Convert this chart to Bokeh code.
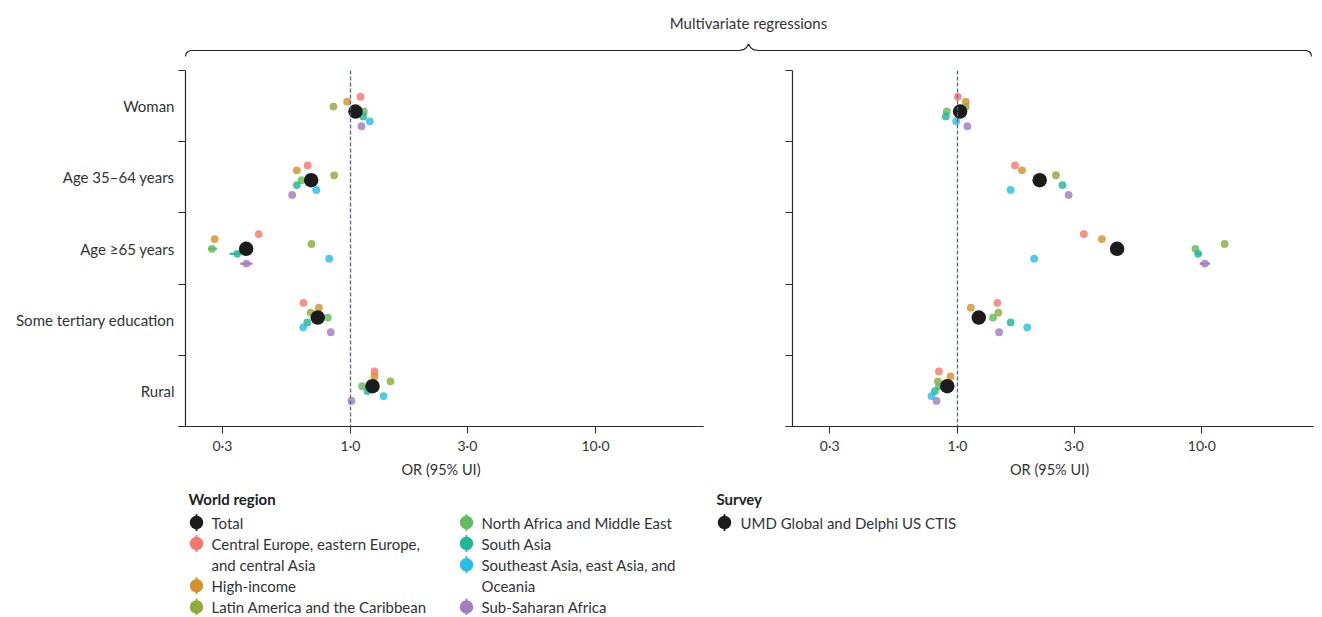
from bokeh.plotting import figure
from bokeh.models import Range1d, FixedTicker, Span, ColumnDataSource, CustomJSTickFormatter
from bokeh.layouts import column, row
from bokeh.embed import file_html
from bokeh.resources import INLINE
from bokeh.core.properties import value

# ---------------- data ----------------
rows = ["Woman", "Age 35–64 years", "Age ≥65 years", "Some tertiary education", "Rural"]

series = ["Total",
          "Central Europe, eastern Europe, and central Asia",
          "High-income",
          "Latin America and the Caribbean",
          "North Africa and Middle East",
          "South Asia",
          "Southeast Asia, east Asia, and Oceania",
          "Sub-Saharan Africa"]

legend_labels = ["Total",
                 "Central Europe, eastern Europe,\nand central Asia",
                 "High-income",
                 "Latin America and the Caribbean",
                 "North Africa and Middle East",
                 "South Asia",
                 "Southeast Asia, east Asia, and\nOceania",
                 "Sub-Saharan Africa"]

survey_label = "UMD Global and Delphi US CTIS"

# odds ratios, order of rows: Woman, Age 35-64, Age >=65, Some tertiary education, Rural
left_total = [1.048, 0.691, 0.375, 0.735, 1.230]
left_ceeca = [1.098, 0.669, 0.422, 0.643, 1.253]
left_high = [0.969, 0.604, 0.279, 0.743, 1.253]
left_latam = [0.852, 0.858, 0.693, 0.687, 1.456]
left_nafme = [1.133, 0.631, 0.272, 0.808, 1.116]
left_sasia = [1.127, 0.604, 0.345, 0.666, 1.173]
left_seao = [1.199, 0.725, 0.819, 0.641, 1.364]
left_ssa = [1.109, 0.578, 0.376, 0.831, 1.009]

right_total = [1.025, 2.170, 4.500, 1.222, 0.908]
right_ceeca = [1.003, 1.720, 3.290, 1.456, 0.839]
right_high = [1.081, 1.836, 3.900, 1.134, 0.936]
right_latam = [1.081, 2.530, 12.40, 1.470, 0.831]
right_nafme = [0.904, 2.170, 9.420, 1.398, 0.840]
right_sasia = [0.896, 2.690, 9.660, 1.650, 0.808]
right_seao = [0.988, 1.650, 2.060, 1.930, 0.783]
right_ssa = [1.098, 2.850, 10.29, 1.480, 0.821]

left_values = [left_total, left_ceeca, left_high, left_latam, left_nafme, left_sasia, left_seao, left_ssa]
right_values = [right_total, right_ceeca, right_high, right_latam, right_nafme, right_sasia, right_seao, right_ssa]

# visible uncertainty intervals: (series index, row index, lower, upper)
left_ci = [(4, 2, 0.262, 0.285), (5, 2, 0.321, 0.356), (7, 2, 0.355, 0.398)]
right_ci = [(5, 2, 9.40, 9.95), (7, 2, 9.80, 10.80)]

x_ticks = [0.3, 1.0, 3.0, 10.0]

# ---------------- style ----------------
FONT = "Lato"
TXT = "#333333"
AX = "#2a2a2a"
colors = ["#1c1c1c", "#F8766D", "#D4922A", "#8FAB3B", "#62BC5E", "#21B795", "#27BFE6", "#A27DBF"]
dodge = [0, 3, 2, 1, 0, -1, -2, -3]
DODGE = 0.069
SCALE = 0.9645
SHIFT = 0.066
PX_PER_DEC = 245.0

FRAME_H = 356
TOP_B = 4
BOT_B = 54
W = 1314


def panel(values, cis, x_lo, x_hi, frame_w, b_left, b_right, labels):
    p = figure(width=b_left + frame_w + b_right, height=TOP_B + FRAME_H + BOT_B,
               x_axis_type="log", x_range=Range1d(x_lo, x_hi), y_range=Range1d(-0.5, 4.5),
               output_backend="svg", toolbar_location=None,
               min_border_left=b_left, min_border_right=b_right,
               min_border_top=TOP_B, min_border_bottom=BOT_B)
    p.outline_line_color = None
    p.xgrid.visible = False
    p.ygrid.visible = False
    p.background_fill_color = "white"
    p.border_fill_color = "white"

    xa = p.xaxis[0]
    xa.ticker = FixedTicker(ticks=x_ticks, minor_ticks=[])
    xa.formatter = CustomJSTickFormatter(code="return tick.toFixed(1).replace('.', '\u00b7');")
    xa.major_tick_out = 7
    xa.major_tick_in = 0
    xa.minor_tick_out = 0
    xa.axis_line_color = AX
    xa.major_tick_line_color = AX
    xa.major_label_text_font = FONT
    xa.major_label_text_font_size = "14px"
    xa.major_label_text_color = TXT
    xa.major_label_standoff = 3
    xa.axis_label = "OR (95% UI)"
    xa.axis_label_text_font = FONT
    xa.axis_label_text_font_size = "14.5px"
    xa.axis_label_text_font_style = "normal"
    xa.axis_label_text_color = TXT
    xa.axis_label_standoff = 4

    ya = p.yaxis[0]
    ya.ticker = FixedTicker(ticks=[0, 1, 2, 3, 4], minor_ticks=[-0.5, 0.5, 1.5, 2.5, 3.5, 4.5])
    if labels:
        ya.formatter = CustomJSTickFormatter(args=dict(labels=rows),
                                             code="const i = Math.round(4 - tick); return (i >= 0 && i < labels.length) ? labels[i] : '';")
    else:
        ya.formatter = CustomJSTickFormatter(code="return '';")
    ya.axis_line_color = None
    ya.major_tick_out = 0
    ya.major_tick_in = 0
    ya.minor_tick_out = 0
    ya.minor_tick_in = 7
    ya.minor_tick_line_color = AX
    ya.minor_tick_line_width = 1.2
    ya.major_label_text_font = FONT
    ya.major_label_text_font_size = "15px"
    ya.major_label_text_color = TXT
    ya.major_label_standoff = 4

    # the y axis line sits 7 px inside the frame, at the ends of the ticks
    p.add_layout(Span(location=x_lo * 10 ** (7 / PX_PER_DEC), dimension="height",
                      line_color=AX, line_width=1.2))
    p.add_layout(Span(location=1.0, dimension="height", line_color="#52687a",
                      line_width=1.3, line_dash="4 2"))

    centers = [4, 3, 2, 1, 0]
    order = [1, 2, 3, 4, 5, 6, 7, 0]
    for k in order:
        ys = [SHIFT + SCALE * c + dodge[k] * DODGE for c in centers]
        src = ColumnDataSource(dict(x=values[k], y=ys))
        for (s, r, lo, hi) in cis:
            if s == k:
                p.segment(x0=[lo], y0=[ys[r]], x1=[hi], y1=[ys[r]],
                          line_color=colors[k], line_width=2.2)
        if k == 0:
            p.scatter("x", "y", source=src, size=14.5, fill_color=colors[k],
                      line_color=None)
        else:
            p.scatter("x", "y", source=src, size=7.8, fill_color=colors[k],
                      fill_alpha=0.82, line_color=None)
    return p


# left panel frame: page x 178..703 ; right panel frame: 785..1313 (1.0 at 350 / 957)
left_lo = 10 ** ((178 - 350) / PX_PER_DEC)
left_hi = 10 ** ((703 - 350) / PX_PER_DEC)
right_lo = 10 ** ((785 - 957) / 244.3)
right_hi = 10 ** ((1313 - 957) / 244.3)

pl = panel(left_values, left_ci, left_lo, left_hi, 525, 178, 40, True)
pr = panel(right_values, right_ci, right_lo, right_hi, 528, 42, 1, False)

# ---------------- top: title and brace (page pixel coordinates) ----------------
TOP_H = 66
top = figure(width=W, height=TOP_H, x_range=Range1d(0, W), y_range=Range1d(TOP_H, 0),
             output_backend="svg", toolbar_location=None,
             min_border=0)
top.axis.visible = False
top.grid.visible = False
top.outline_line_color = None
top.text(x=[748], y=[22], text=["Multivariate regressions"], text_align="center",
         text_baseline="middle", text_font=value(FONT), text_font_size="15px",
         text_color=TXT)
bx = [185, 185.6, 187.5, 190, 738, 743, 746, 748, 750, 753, 758, 1306, 1308.5, 1310.4, 1311]
by = [56, 53, 51, 50, 50, 49.2, 47, 43.5, 47, 49.2, 50, 50, 51, 53, 56]
top.line(bx, by, line_color="#222222", line_width=1.2)

# ---------------- legend ----------------
LH = 135
leg = figure(width=W, height=LH, x_range=Range1d(0, W), y_range=Range1d(LH, 0),
             output_backend="svg", toolbar_location=None, min_border=0)
leg.axis.visible = False
leg.grid.visible = False
leg.outline_line_color = None

HEAD_Y = 18
ITEM_Y0 = 42
LINE_H = 21.1


def heading(x, text):
    leg.text(x=[x], y=[HEAD_Y], text=[text], text_align="left", text_baseline="middle",
             text_font=value(FONT), text_font_size="15px", text_font_style="bold",
             text_color="#222222")


def item(mx, tx, line, label, color):
    y = ITEM_Y0 + line * LINE_H
    leg.segment(x0=[mx], y0=[y - 8.5], x1=[mx], y1=[y + 8.5], line_color=color, line_width=1.8)
    leg.scatter(x=[mx], y=[y], size=13.5, fill_color=color, line_color=None)
    parts = label.split("\n")
    for j, t in enumerate(parts):
        leg.text(x=[tx], y=[y + j * LINE_H], text=[t], text_align="left", text_baseline="middle",
                 text_font=value(FONT), text_font_size="15px", text_color=TXT)
    return line + len(parts)


heading(188, "World region")
ln = 0
for k in [0, 1, 2, 3]:
    ln = item(196, 211, ln, legend_labels[k], colors[k])
ln = 0
for k in [4, 5, 6, 7]:
    ln = item(466, 481, ln, legend_labels[k], colors[k])

heading(716, "Survey")
item(724, 740, 0, survey_label, colors[0])

layout = column(top, row(pl, pr), leg)
open("out.html", "w").write(file_html(layout, INLINE))
